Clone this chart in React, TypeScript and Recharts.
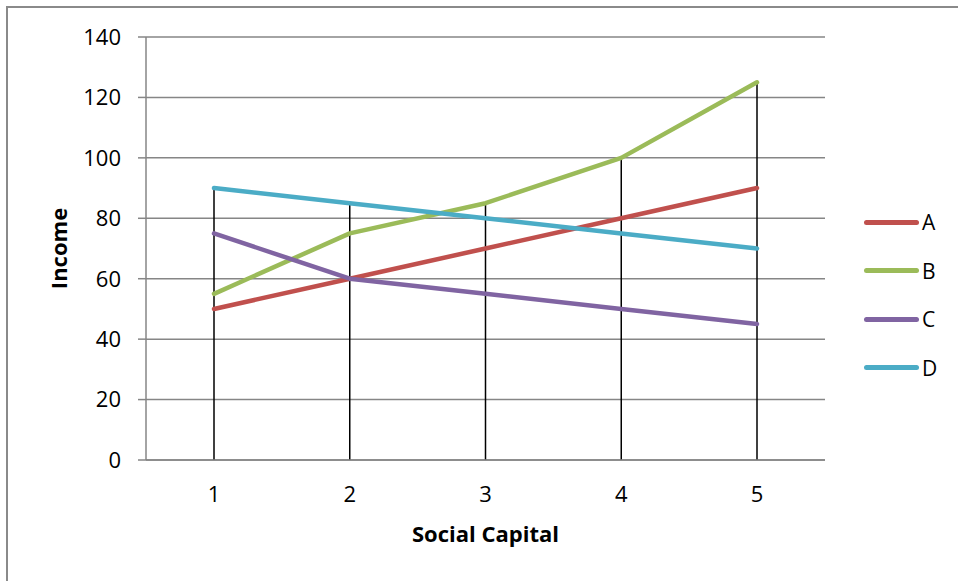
import React from 'react';
import {
  LineChart,
  Line,
  XAxis,
  YAxis,
  CartesianGrid,
  ReferenceLine,
  Label,
} from 'recharts';

// categories on the x axis
const socialCapital = ['1', '2', '3', '4', '5'];

// income per group
const seriesA = [50, 60, 70, 80, 90];
const seriesB = [55, 75, 85, 100, 125];
const seriesC = [75, 60, 55, 50, 45];
const seriesD = [90, 85, 80, 75, 70];

const yTicks = [0, 20, 40, 60, 80, 100, 120, 140];

const SERIES = [
  { key: 'A', values: seriesA, color: '#C0504D' },
  { key: 'B', values: seriesB, color: '#9BBB59' },
  { key: 'C', values: seriesC, color: '#8064A2' },
  { key: 'D', values: seriesD, color: '#4BACC6' },
];

const data = socialCapital.map((x, i) => {
  const row: Record<string, any> = { x };
  SERIES.forEach((s) => {
    row[s.key] = s.values[i];
  });
  return row;
});

// drop lines run from the highest point of each category down to zero
const dropLines = socialCapital.map((x, i) => ({
  x,
  top: Math.max(...SERIES.map((s) => s.values[i])),
}));

const FONT = '"Open Sans", "Noto Sans", sans-serif';
const GRID = '#868686';

function LegendBox() {
  return (
    <div
      style={{
        position: 'absolute',
        left: 864,
        top: 198,
        fontFamily: FONT,
        fontSize: 21,
        color: '#000',
      }}
    >
      {SERIES.map((s) => (
        <div
          key={s.key}
          style={{ display: 'flex', alignItems: 'center', height: 48.5 }}
        >
          <div
            style={{
              width: 55,
              height: 5,
              borderRadius: 3,
              background: s.color,
              marginRight: 3,
            }}
          />
          <span>{s.key}</span>
        </div>
      ))}
    </div>
  );
}

export default function App() {
  return (
    <div
      style={{
        position: 'absolute',
        left: 0,
        top: 0,
        width: 958,
        height: 581,
        overflow: 'hidden',
        background: '#fff',
      }}
    >
      <div
        style={{
          position: 'absolute',
          left: 6,
          top: 6,
          width: 1000,
          height: 1000,
          borderLeft: '2px solid #8a8a8a',
          borderTop: '2px solid #8a8a8a',
        }}
      />
      <LineChart
        width={958}
        height={581}
        data={data}
        margin={{ top: 37, right: 133, bottom: 0, left: 0 }}
        style={{ position: 'absolute', left: 0, top: 0 }}
      >
        <CartesianGrid vertical={false} stroke={GRID} strokeWidth={1.5} />
        <XAxis
          dataKey="x"
          height={121}
          padding={{ left: 68, right: 68 }}
          tickLine={false}
          axisLine={{ stroke: GRID, strokeWidth: 1.5 }}
          tickMargin={20}
          tick={{ fill: '#000', fontSize: 22, fontFamily: FONT }}
        >
          <Label
            value="Social Capital"
            position="insideTop"
            offset={66}
            style={{ fill: '#000', fontSize: 22, fontWeight: 700, fontFamily: FONT }}
          />
        </XAxis>
        <YAxis
          width={146}
          domain={[0, 140]}
          ticks={yTicks}
          interval={0}
          tickSize={8}
          tickMargin={17}
          tickLine={{ stroke: GRID, strokeWidth: 1.5 }}
          axisLine={{ stroke: GRID, strokeWidth: 1.5 }}
          tick={{ fill: '#000', fontSize: 22, fontFamily: FONT }}
        >
          <Label
            value="Income"
            angle={-90}
            position="insideLeft"
            offset={59}
            style={{
              fill: '#000',
              fontSize: 22,
              fontWeight: 700,
              fontFamily: FONT,
              textAnchor: 'middle',
            }}
          />
        </YAxis>
        {dropLines.map((d) => (
          <ReferenceLine
            key={d.x}
            segment={[
              { x: d.x, y: 0 },
              { x: d.x, y: d.top },
            ]}
            stroke="#000"
            strokeWidth={1.5}
          />
        ))}
        {SERIES.map((s) => (
          <Line
            key={s.key}
            type="linear"
            dataKey={s.key}
            stroke={s.color}
            strokeWidth={4.5}
            strokeLinecap="round"
            strokeLinejoin="round"
            dot={false}
            activeDot={false}
            isAnimationActive={false}
          />
        ))}
      </LineChart>
      <LegendBox />
    </div>
  );
}
